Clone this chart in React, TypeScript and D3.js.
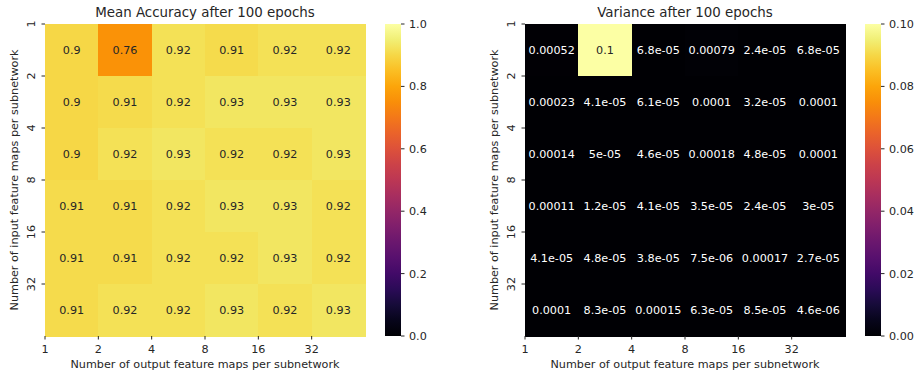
import * as d3 from "d3";

const tickLabels = ["1", "2", "4", "8", "16", "32"];

// rows = input feature maps, cols = output feature maps
const accuracy = [
  [0.9, 0.76, 0.92, 0.91, 0.92, 0.92],
  [0.9, 0.91, 0.92, 0.93, 0.93, 0.93],
  [0.9, 0.92, 0.93, 0.92, 0.92, 0.93],
  [0.91, 0.91, 0.92, 0.93, 0.93, 0.92],
  [0.91, 0.91, 0.92, 0.92, 0.93, 0.92],
  [0.91, 0.92, 0.92, 0.93, 0.92, 0.93],
];

const variance = [
  [0.00052, 0.1, 6.8e-5, 0.00079, 2.4e-5, 6.8e-5],
  [0.00023, 4.1e-5, 6.1e-5, 0.0001, 3.2e-5, 0.0001],
  [0.00014, 5e-5, 4.6e-5, 0.00018, 4.8e-5, 0.0001],
  [0.00011, 1.2e-5, 4.1e-5, 3.5e-5, 2.4e-5, 3e-5],
  [4.1e-5, 4.8e-5, 3.8e-5, 7.5e-6, 0.00017, 2.7e-5],
  [0.0001, 8.3e-5, 0.00015, 6.3e-5, 8.5e-5, 4.6e-6],
];

const accTicks = [0, 0.2, 0.4, 0.6, 0.8, 1.0];
const varTicks = [0, 0.02, 0.04, 0.06, 0.08, 0.1];

const FONT = "DejaVu Sans, sans-serif";
const TXT = "#262626";
const FS = 11.2;

// matplotlib-ish "%.2g"
function fmtG(v: number) {
  if (v === 0) return "0";
  const e = Math.floor(Math.log10(Math.abs(v)));
  if (e < -4) {
    const m = +(v / Math.pow(10, e)).toPrecision(2);
    return `${m}e-${String(-e).padStart(2, "0")}`;
  }
  return String(+v.toPrecision(2));
}

function textColor(c: string) {
  const { r, g, b } = d3.rgb(c);
  const lin = (x: number) => {
    x /= 255;
    return x <= 0.03928 ? x / 12.92 : Math.pow((x + 0.055) / 1.055, 2.4);
  };
  const lum = 0.2126 * lin(r) + 0.7152 * lin(g) + 0.0722 * lin(b);
  return lum > 0.408 ? TXT : "#ffffff";
}

type HeatProps = {
  id: string;
  x0: number;
  data: number[][];
  vmax: number;
  title: string;
  cbTicks: number[];
  cbFmt: (v: number) => string;
};

function Heatmap({ id, x0, data, vmax, title, cbTicks, cbFmt }: HeatProps) {
  const top = 24;
  const bottom = 336;
  const w = 320;
  const idx = d3.range(6);
  const x = d3.scaleBand<number>().domain(idx).range([x0, x0 + w]);
  const y = d3.scaleBand<number>().domain(idx).range([top, bottom]);
  const color = d3.scaleSequential(d3.interpolateInferno).domain([0, vmax]);
  const cbX = x0 + 340;
  const cbW = 16;
  const cbY = d3.scaleLinear().domain([0, vmax]).range([bottom, top]);
  const stops = d3.range(0, 1.0001, 0.05);
  const midY = (top + bottom) / 2;

  return (
    <g fontFamily={FONT}>
      <defs>
        <linearGradient id={id} x1="0" y1="1" x2="0" y2="0">
          {stops.map((s) => (
            <stop key={s} offset={s} stopColor={d3.interpolateInferno(s)} />
          ))}
        </linearGradient>
      </defs>
      <text x={x0 + w / 2} y={17} textAnchor="middle" fontSize={13.4} fill={TXT}>
        {title}
      </text>
      {data.map((row, i) =>
        row.map((v, j) => {
          const c = color(v);
          return (
            <g key={`${i}-${j}`}>
              <rect
                x={x(j)}
                y={y(i)}
                width={x.bandwidth() + 1}
                height={y.bandwidth() + 1}
                fill={c}
                shapeRendering="crispEdges"
              />
              <text
                x={x(j)! + x.bandwidth() / 2}
                y={y(i)! + y.bandwidth() / 2}
                dy="0.35em"
                textAnchor="middle"
                fontSize={FS}
                fill={textColor(c)}
              >
                {fmtG(v)}
              </text>
            </g>
          );
        })
      )}
      {/* x ticks at cell edges */}
      {idx.map((j) => (
        <g key={`xt${j}`}>
          <line x1={x(j)} x2={x(j)} y1={bottom} y2={bottom + 3.5} stroke={TXT} />
          <text x={x(j)} y={353} textAnchor="middle" fontSize={FS} fill={TXT}>
            {tickLabels[j]}
          </text>
        </g>
      ))}
      <text x={x0 + w / 2} y={368} textAnchor="middle" fontSize={FS} fill={TXT}>
        Number of output feature maps per subnetwork
      </text>
      {/* y ticks at cell edges */}
      {idx.map((i) => (
        <g key={`yt${i}`}>
          <line x1={x0 - 3.5} x2={x0} y1={y(i)} y2={y(i)} stroke={TXT} />
          <text
            transform={`translate(${x0 - 10},${y(i)}) rotate(-90)`}
            textAnchor="middle"
            fontSize={FS}
            fill={TXT}
          >
            {tickLabels[i]}
          </text>
        </g>
      ))}
      <text
        transform={`translate(${x0 - 27},${midY}) rotate(-90)`}
        textAnchor="middle"
        fontSize={FS}
        fill={TXT}
      >
        Number of input feature maps per subnetwork
      </text>
      {/* colorbar */}
      <rect x={cbX} y={top} width={cbW} height={bottom - top} fill={`url(#${id})`} />
      {cbTicks.map((t) => (
        <g key={`cb${t}`}>
          <line x1={cbX + cbW} x2={cbX + cbW + 3.5} y1={cbY(t)} y2={cbY(t)} stroke={TXT} />
          <text x={cbX + cbW + 8} y={cbY(t)} dy="0.35em" fontSize={FS} fill={TXT}>
            {cbFmt(t)}
          </text>
        </g>
      ))}
    </g>
  );
}

export default function App() {
  return (
    <svg
      width={915}
      height={374}
      style={{ position: "absolute", left: 0, top: 0, background: "#fff" }}
    >
      <Heatmap
        id="gradAcc"
        x0={45}
        data={accuracy}
        vmax={1}
        title="Mean Accuracy after 100 epochs"
        cbTicks={accTicks}
        cbFmt={d3.format(".1f")}
      />
      <Heatmap
        id="gradVar"
        x0={525}
        data={variance}
        vmax={0.1}
        title="Variance after 100 epochs"
        cbTicks={varTicks}
        cbFmt={d3.format(".2f")}
      />
    </svg>
  );
}
